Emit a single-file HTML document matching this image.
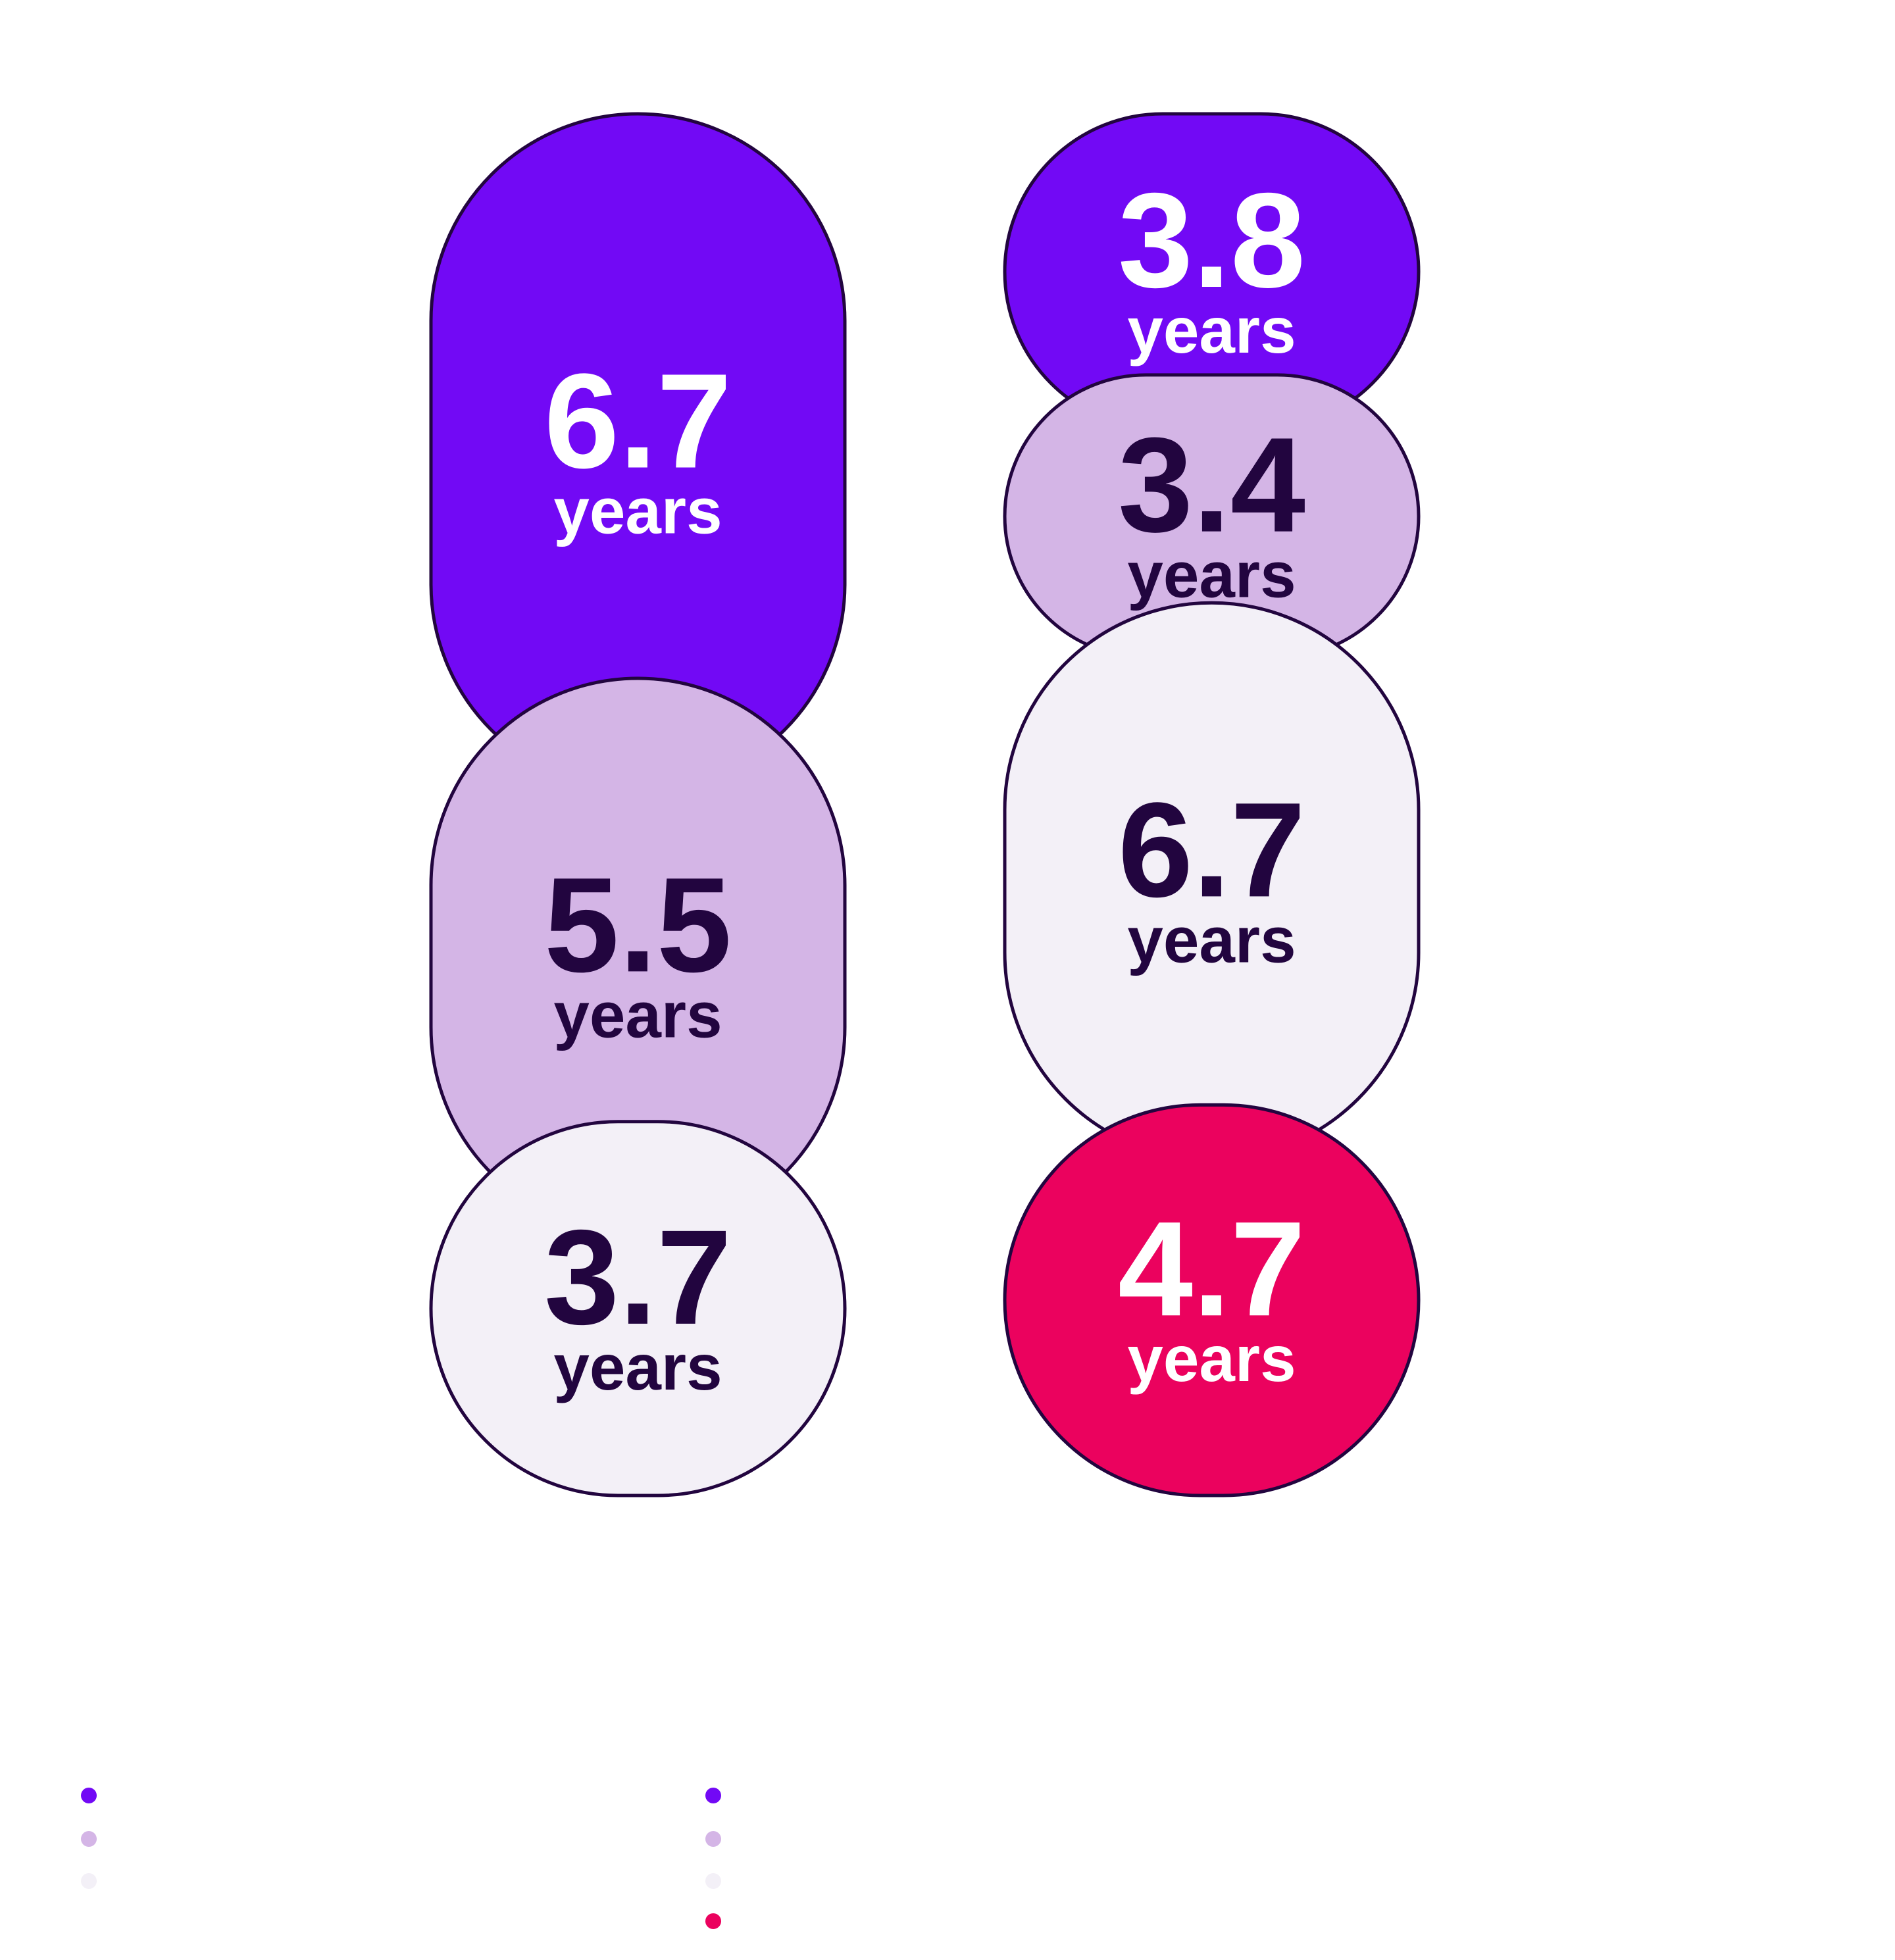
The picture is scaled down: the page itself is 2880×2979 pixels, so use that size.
<!DOCTYPE html>
<html><head><meta charset="utf-8">
<style>
html,body{margin:0;padding:0;background:#fff;}
svg{display:block;}
text{font-family:"Liberation Sans",sans-serif;font-weight:bold;text-anchor:middle;}
</style></head>
<body>
<svg id="chart" width="2880" height="2979" viewBox="0 0 2880 2979" xmlns="http://www.w3.org/2000/svg">
<g id="cols"></g>
<g id="legend"></g>
</svg>
<script>
const leftValues = [6.7, 5.5, 3.7];
const rightValues = [3.8, 3.4, 6.7, 4.7];
const leftColors = ["#7209f5", "#d4b5e6", "#f3f0f7"];
const rightColors = ["#7209f5", "#d4b5e6", "#f3f0f7", "#eb025e"];
const leftTextColors = ["#ffffff", "#22053f", "#22053f"];
const rightTextColors = ["#ffffff", "#22053f", "#22053f", "#ffffff"];
const unitLabel = "years";

const NS = "http://www.w3.org/2000/svg";
const cols = document.getElementById('cols');
const top0 = 173, span = 2100, W = 629;

function drawColumn(vals, colors, tcols, x, overlap, name) {
  const g = document.createElementNS(NS, 'g');
  
  
  cols.appendChild(g);
  const sum = vals.reduce((a, b) => a + b, 0);
  const k = (span + (vals.length - 1) * overlap) / sum;
  let y = top0;
  vals.forEach((v, i) => {
    const h = v * k;
    const r = Math.min(W, h) / 2;
    const rect = document.createElementNS(NS, 'rect');
    
    
    rect.setAttribute('x', x); rect.setAttribute('y', y);
    rect.setAttribute('width', W); rect.setAttribute('height', h);
    rect.setAttribute('rx', r); rect.setAttribute('ry', r);
    rect.setAttribute('fill', colors[i]);
    rect.setAttribute('stroke', '#22053f');
    rect.setAttribute('stroke-width', '5');
    g.appendChild(rect);
    const cy = y + h / 2 + 23;
    const t1 = document.createElementNS(NS, 'text');
    
    
    t1.setAttribute('x', x + W / 2); t1.setAttribute('y', cy);
    t1.setAttribute('font-size', '205');
    t1.setAttribute('fill', tcols[i]);
    t1.textContent = v.toFixed(1);
    g.appendChild(t1);
    const t2 = document.createElementNS(NS, 'text');
    
    
    t2.setAttribute('x', x + W / 2); t2.setAttribute('y', cy + 100);
    t2.setAttribute('font-size', '98');
    t2.setAttribute('fill', tcols[i]);
    t2.textContent = unitLabel;
    g.appendChild(t2);
    y += h - overlap;
  });
}
drawColumn(leftValues, leftColors, leftTextColors, 655, 171, 'left-column');
drawColumn(rightValues, rightColors, rightTextColors, 1527, 83, 'right-column');

const legend = document.getElementById('legend');
const legendY = [2729, 2795, 2859, 2920];
function drawLegend(colors, x, name) {
  colors.forEach((c, i) => {
    const d = document.createElementNS(NS, 'circle');
    
    
    d.setAttribute('cx', x); d.setAttribute('cy', legendY[i]);
    d.setAttribute('r', 12);
    d.setAttribute('fill', c);
    legend.appendChild(d);
  });
}
drawLegend(leftColors, 135, 'left-legend');
drawLegend(rightColors, 1084, 'right-legend');
</script>
</body></html>
